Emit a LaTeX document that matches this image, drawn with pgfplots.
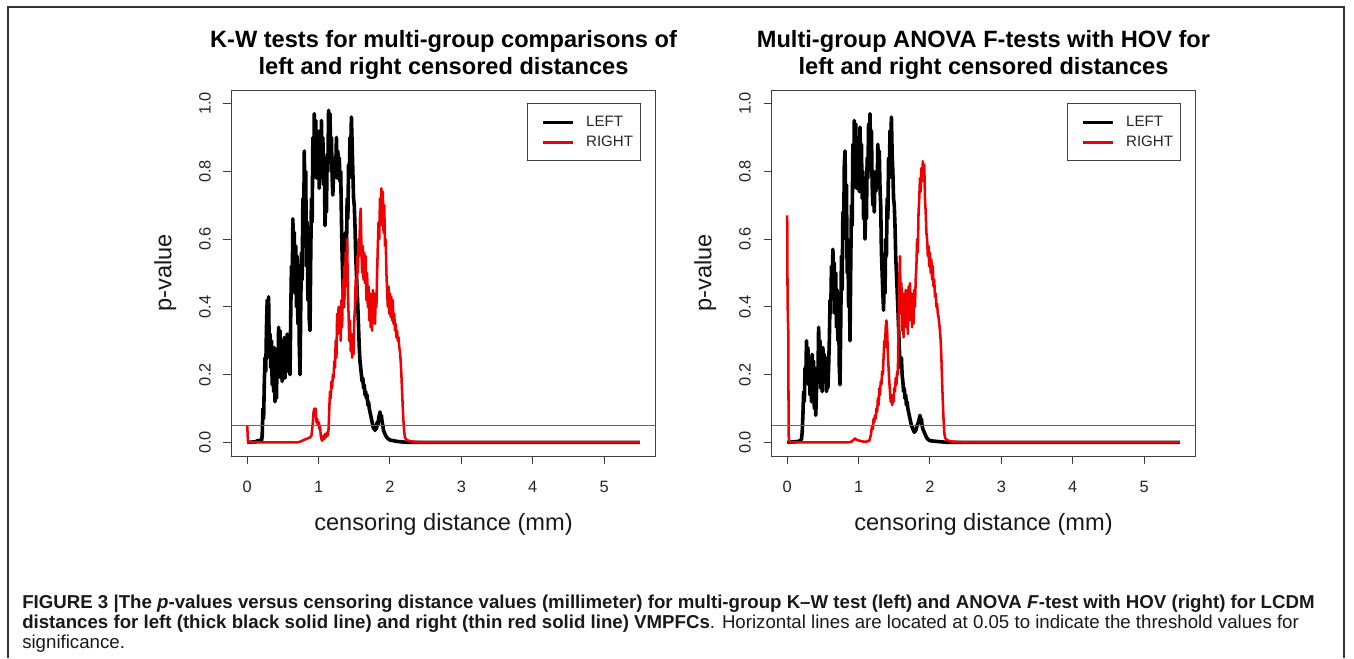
\documentclass[border=0pt]{standalone}
\usepackage{pgfplots}
\pgfplotsset{compat=1.18}
\usepackage{pgfplotstable}
\usepackage{fontspec}
\setmainfont{Liberation Sans}
\definecolor{rred}{RGB}{240,0,0}

% ---------- K-W tests: LEFT ----------
\pgfplotstableread{
x y
0.00 0
0.12 0.002
0.15 0.006
0.17 0.003
0.19 0.008
0.20 0.004
0.21 0.02
0.22 0.10
0.23 0.07
0.24 0.18
0.25 0.25
0.26 0.21
0.27 0.34
0.28 0.42
0.29 0.28
0.30 0.43
0.31 0.25
0.32 0.32
0.33 0.22
0.34 0.30
0.35 0.17
0.36 0.27
0.37 0.15
0.38 0.28
0.39 0.12
0.40 0.21
0.41 0.13
0.42 0.26
0.43 0.20
0.44 0.34
0.45 0.22
0.46 0.33
0.47 0.19
0.48 0.30
0.49 0.18
0.50 0.29
0.51 0.21
0.52 0.31
0.53 0.19
0.54 0.26
0.55 0.22
0.56 0.32
0.57 0.21
0.58 0.30
0.59 0.23
0.60 0.20
0.61 0.38
0.62 0.52
0.63 0.45
0.64 0.66
0.65 0.50
0.66 0.62
0.67 0.44
0.68 0.58
0.69 0.40
0.70 0.55
0.71 0.35
0.72 0.50
0.73 0.28
0.74 0.20
0.75 0.40
0.76 0.56
0.77 0.48
0.78 0.72
0.79 0.60
0.80 0.86
0.81 0.66
0.82 0.80
0.83 0.52
0.84 0.65
0.85 0.42
0.86 0.58
0.87 0.36
0.88 0.33
0.89 0.55
0.90 0.72
0.91 0.65
0.92 0.90
0.93 0.78
0.94 0.97
0.95 0.80
0.96 0.95
0.97 0.78
0.98 0.92
0.99 0.80
1.00 0.88
1.01 0.75
1.02 0.92
1.03 0.78
1.04 0.95
1.05 0.82
1.06 0.90
1.07 0.76
1.08 0.84
1.09 0.64
1.10 0.72
1.11 0.68
1.12 0.85
1.13 0.80
1.14 0.98
1.15 0.86
1.16 0.97
1.17 0.84
1.18 0.90
1.19 0.78
1.20 0.73
1.21 0.80
1.22 0.78
1.23 0.84
1.24 0.80
1.25 0.90
1.26 0.78
1.27 0.86
1.28 0.80
1.29 0.84
1.30 0.77
1.31 0.80
1.32 0.66
1.33 0.55
1.34 0.48
1.35 0.40
1.36 0.52
1.37 0.46
1.38 0.62
1.39 0.55
1.40 0.72
1.41 0.66
1.42 0.82
1.43 0.78
1.44 0.90
1.45 0.86
1.46 0.96
1.47 0.88
1.48 0.80
1.49 0.72
1.50 0.70
1.51 0.64
1.52 0.55
1.53 0.50
1.54 0.45
1.55 0.40
1.56 0.34
1.57 0.28
1.58 0.24
1.59 0.22
1.60 0.20
1.61 0.18
1.62 0.19
1.63 0.16
1.64 0.17
1.65 0.14
1.66 0.15
1.67 0.13
1.68 0.14
1.69 0.11
1.70 0.12
1.71 0.10
1.72 0.09
1.73 0.08
1.74 0.07
1.75 0.06
1.76 0.05
1.77 0.04
1.78 0.05
1.79 0.035
1.80 0.05
1.81 0.04
1.82 0.06
1.83 0.05
1.84 0.07
1.85 0.08
1.86 0.09
1.87 0.07
1.88 0.08
1.89 0.06
1.90 0.05
1.91 0.035
1.92 0.03
1.94 0.02
1.96 0.014
1.98 0.01
2.00 0.007
2.05 0.005
2.10 0.003
2.15 0.002
2.20 0.001
2.30 0
5.50 0
}\kwL

% ---------- K-W tests: RIGHT ----------
\pgfplotstableread{
x y
0.000 0.05
0.005 0.03
0.010 0.005
0.020 0
0.70 0
0.75 0.003
0.80 0.008
0.85 0.012
0.88 0.015
0.90 0.02
0.92 0.06
0.93 0.09
0.94 0.10
0.95 0.08
0.96 0.10
0.97 0.06
0.98 0.07
0.99 0.05
1.00 0.06
1.01 0.04
1.02 0.05
1.03 0.02
1.04 0.01
1.05 0.005
1.06 0.015
1.07 0.02
1.08 0.01
1.09 0.025
1.10 0.015
1.11 0.02
1.12 0.03
1.13 0.02
1.14 0.04
1.15 0.10
1.16 0.15
1.17 0.13
1.18 0.18
1.19 0.16
1.20 0.20
1.21 0.19
1.22 0.24
1.23 0.22
1.24 0.30
1.25 0.25
1.26 0.38
1.27 0.32
1.28 0.40
1.29 0.36
1.30 0.40
1.31 0.30
1.32 0.42
1.33 0.34
1.34 0.48
1.35 0.40
1.36 0.52
1.37 0.46
1.38 0.56
1.39 0.50
1.40 0.60
1.41 0.45
1.42 0.38
1.43 0.30
1.44 0.36
1.45 0.27
1.46 0.32
1.47 0.25
1.48 0.30
1.49 0.26
1.50 0.36
1.51 0.40
1.52 0.48
1.53 0.42
1.54 0.55
1.55 0.50
1.56 0.60
1.57 0.55
1.58 0.66
1.59 0.69
1.60 0.58
1.61 0.50
1.62 0.58
1.63 0.48
1.64 0.56
1.65 0.47
1.66 0.55
1.67 0.42
1.68 0.50
1.69 0.40
1.70 0.46
1.71 0.36
1.72 0.44
1.73 0.34
1.74 0.42
1.75 0.33
1.76 0.45
1.77 0.38
1.78 0.44
1.79 0.35
1.80 0.42
1.81 0.40
1.82 0.50
1.83 0.58
1.84 0.65
1.85 0.60
1.86 0.72
1.87 0.66
1.88 0.75
1.89 0.64
1.90 0.74
1.91 0.62
1.92 0.70
1.93 0.58
1.94 0.60
1.95 0.50
1.96 0.45
1.97 0.40
1.98 0.46
1.99 0.38
2.00 0.44
2.01 0.37
2.02 0.43
2.03 0.36
2.04 0.42
2.05 0.35
2.06 0.38
2.07 0.33
2.08 0.35
2.09 0.31
2.10 0.33
2.11 0.30
2.12 0.31
2.13 0.28
2.14 0.27
2.15 0.24
2.16 0.20
2.17 0.15
2.18 0.10
2.19 0.06
2.20 0.03
2.21 0.015
2.23 0.008
2.26 0.005
2.30 0.003
2.40 0.001
2.50 0
5.50 0
}\kwR

% ---------- ANOVA: LEFT ----------
\pgfplotstableread{
x y
0.00 0
0.15 0.003
0.18 0.005
0.20 0.01
0.21 0.03
0.22 0.08
0.23 0.15
0.24 0.12
0.25 0.22
0.26 0.18
0.27 0.30
0.28 0.22
0.29 0.28
0.30 0.17
0.31 0.25
0.32 0.14
0.33 0.22
0.34 0.12
0.35 0.26
0.36 0.18
0.37 0.24
0.38 0.10
0.39 0.16
0.40 0.08
0.41 0.15
0.42 0.22
0.43 0.18
0.44 0.34
0.45 0.24
0.46 0.30
0.47 0.16
0.48 0.22
0.49 0.15
0.50 0.28
0.51 0.20
0.52 0.26
0.53 0.18
0.54 0.25
0.55 0.15
0.56 0.20
0.57 0.16
0.58 0.22
0.59 0.30
0.60 0.42
0.61 0.38
0.62 0.52
0.63 0.45
0.64 0.57
0.65 0.48
0.66 0.53
0.67 0.38
0.68 0.50
0.69 0.34
0.70 0.45
0.71 0.30
0.72 0.40
0.73 0.22
0.74 0.17
0.75 0.35
0.76 0.55
0.77 0.45
0.78 0.68
0.79 0.60
0.80 0.82
0.81 0.86
0.82 0.70
0.83 0.76
0.84 0.50
0.85 0.60
0.86 0.40
0.87 0.48
0.88 0.30
0.89 0.52
0.90 0.70
0.91 0.64
0.92 0.88
0.93 0.76
0.94 0.95
0.95 0.80
0.96 0.94
0.97 0.75
0.98 0.90
0.99 0.78
1.00 0.86
1.01 0.74
1.02 0.93
1.03 0.80
1.04 0.88
1.05 0.72
1.06 0.80
1.07 0.66
1.08 0.74
1.09 0.60
1.10 0.70
1.11 0.66
1.12 0.84
1.13 0.78
1.14 0.94
1.15 0.86
1.16 0.97
1.17 0.82
1.18 0.92
1.19 0.76
1.20 0.70
1.21 0.80
1.22 0.68
1.23 0.78
1.24 0.74
1.25 0.80
1.26 0.75
1.27 0.88
1.28 0.80
1.29 0.86
1.30 0.75
1.31 0.70
1.32 0.56
1.33 0.50
1.34 0.44
1.35 0.39
1.36 0.50
1.37 0.44
1.38 0.60
1.39 0.55
1.40 0.72
1.41 0.66
1.42 0.84
1.43 0.78
1.44 0.92
1.45 0.88
1.46 0.96
1.47 0.85
1.48 0.80
1.49 0.72
1.50 0.70
1.51 0.64
1.52 0.55
1.53 0.50
1.54 0.45
1.55 0.40
1.56 0.34
1.57 0.28
1.58 0.24
1.59 0.22
1.60 0.25
1.61 0.20
1.62 0.18
1.63 0.15
1.64 0.16
1.65 0.13
1.66 0.14
1.67 0.11
1.68 0.12
1.69 0.10
1.70 0.09
1.72 0.07
1.74 0.05
1.76 0.04
1.78 0.03
1.80 0.035
1.82 0.05
1.84 0.06
1.86 0.08
1.87 0.06
1.88 0.07
1.89 0.05
1.90 0.04
1.92 0.03
1.94 0.02
1.96 0.012
1.98 0.008
2.00 0.005
2.10 0.003
2.20 0.001
2.30 0
5.50 0
}\anL

% ---------- ANOVA: RIGHT ----------
\pgfplotstableread{
x y
0.000 0.67
0.005 0.43
0.010 0.36
0.015 0.33
0.020 0.02
0.030 0
0.85 0
0.90 0.002
0.93 0.008
0.95 0.012
0.97 0.008
1.00 0.006
1.05 0.003
1.10 0.002
1.15 0.005
1.17 0.02
1.19 0.05
1.20 0.04
1.21 0.07
1.22 0.06
1.23 0.08
1.24 0.07
1.25 0.10
1.26 0.09
1.27 0.13
1.28 0.11
1.29 0.16
1.30 0.14
1.31 0.18
1.32 0.17
1.33 0.21
1.34 0.20
1.35 0.25
1.36 0.30
1.37 0.28
1.38 0.34
1.39 0.36
1.40 0.33
1.41 0.26
1.42 0.22
1.43 0.18
1.44 0.15
1.45 0.12
1.46 0.14
1.47 0.11
1.48 0.13
1.49 0.12
1.50 0.16
1.51 0.15
1.52 0.19
1.53 0.17
1.54 0.21
1.55 0.20
1.56 0.35
1.57 0.48
1.58 0.55
1.59 0.38
1.60 0.47
1.61 0.33
1.62 0.44
1.63 0.31
1.64 0.42
1.65 0.35
1.66 0.45
1.67 0.34
1.68 0.44
1.69 0.32
1.70 0.46
1.71 0.36
1.72 0.47
1.73 0.38
1.74 0.44
1.75 0.34
1.76 0.42
1.77 0.35
1.78 0.45
1.79 0.40
1.80 0.48
1.81 0.52
1.82 0.60
1.83 0.56
1.84 0.68
1.85 0.72
1.86 0.78
1.87 0.74
1.88 0.81
1.89 0.77
1.90 0.83
1.91 0.80
1.92 0.82
1.93 0.72
1.94 0.68
1.95 0.62
1.96 0.60
1.97 0.55
1.98 0.58
1.99 0.52
2.00 0.56
2.01 0.50
2.02 0.54
2.03 0.48
2.04 0.52
2.05 0.46
2.06 0.48
2.07 0.43
2.08 0.44
2.09 0.40
2.10 0.41
2.11 0.38
2.12 0.37
2.13 0.35
2.14 0.33
2.15 0.30
2.16 0.25
2.17 0.18
2.18 0.12
2.19 0.07
2.20 0.03
2.21 0.015
2.23 0.008
2.26 0.005
2.30 0.003
2.40 0.001
2.50 0
5.50 0
}\anR

\pgfplotsset{
  rstyle/.style={
    scale only axis, width=318pt, height=274.5pt,
    anchor=south west,
    xmin=-0.22, xmax=5.72, ymin=-0.04, ymax=1.04,
    axis line style={black!75, line width=0.75pt},
    xtick={0,1,2,3,4,5},
    ytick={0,0.2,0.4,0.6,0.8,1},
    yticklabels={0.0,0.2,0.4,0.6,0.8,1.0},
    xtick pos=bottom, ytick pos=left,
    tick align=outside, major tick length=6pt,
    every tick/.style={black!75, line width=0.75pt},
    tick label style={font=\fontsize{12.3pt}{14pt}\selectfont, text=black!85},
    /pgf/number format/assume math mode=true,
    xticklabel style={yshift=-9.2pt},
    yticklabel style={rotate=90, anchor=south, inner sep=0pt, yshift=9.4pt},
    xlabel={censoring distance (mm)},
    xlabel style={at={(axis description cs:0.5,-0.2022)}, anchor=base, inner sep=0pt,
      font=\fontsize{17.7pt}{20pt}\selectfont, text=black!90},
    ylabel={p-value},
    ylabel style={at={(axis description cs:-0.142,0.5)}, anchor=base, inner sep=0pt,
      font=\fontsize{17.7pt}{20pt}\selectfont, text=black!90},
    title style={at={(axis description cs:0.5,1.1426)}, anchor=north, align=center,
      inner sep=0pt, font=\bfseries\fontsize{17.7pt}{20.25pt}\selectfont},
    legend style={at={(0.9651,0.9637)}, anchor=north east, draw=black!75,
      line width=0.75pt, fill=white,
      font=\fontsize{11.3pt}{13pt}\selectfont, text=black!85,
      inner xsep=3.4pt, inner ysep=6.3pt, row sep=0pt,
      nodes={inner xsep=2pt, inner ysep=0pt, text height=10.5pt, text depth=4.5pt},
      /tikz/every odd column/.append style={column sep=7pt}},
    legend cell align=left,
    legend image code/.code={\path (0pt,0pt); \draw[##1, line width=2.4pt] (6.6pt,0pt) -- (29.1pt,0pt);},
  },
  blk/.style={black, line width=2.7pt, line join=round},
  rd/.style={rred, line width=1.9pt, line join=round},
  thr/.style={black!60, line width=0.75pt},
}

\begin{document}
\begin{tikzpicture}[x=0.75pt, y=0.75pt]
\path[use as bounding box] (0,0) rectangle (1354,658);
\draw[black!80, line width=1.1pt] (8,0) -- (8,651) -- (1344,651) -- (1344,0);

\begin{axis}[rstyle, at={(173.625pt,151.5pt)},
  title={K-W tests for multi-group comparisons of\\left and right censored distances}]
  \addplot[blk] table[x=x, y=y] {\kwL};
  \addplot[rd] table[x=x, y=y] {\kwR};
  \addplot[thr, forget plot] coordinates {(-0.22,0.05) (5.72,0.05)};
  \legend{LEFT, RIGHT}
\end{axis}

\begin{axis}[rstyle, at={(578.625pt,151.5pt)},
  title={Multi-group ANOVA F-tests with HOV for\\left and right censored distances}]
  \addplot[blk] table[x=x, y=y] {\anL};
  \addplot[rd] table[x=x, y=y] {\anR};
  \addplot[thr, forget plot] coordinates {(-0.22,0.05) (5.72,0.05)};
  \legend{LEFT, RIGHT}
\end{axis}

\begin{scope}[every node/.style={anchor=base west, inner sep=0pt, font=\fontsize{14pt}{15pt}\selectfont, text=black!90}]
\node at (22,50) {\textbf{FIGURE 3 |The \textit{p}-values versus censoring distance values (millimeter) for multi-group K–W test (left) and ANOVA \textit{F}-test with HOV (right) for LCDM}};
\node at (22,30) {\textbf{distances for left (thick black solid line) and right (thin red solid line) VMPFCs}. Horizontal lines are located at 0.05 to indicate the threshold values for};
\node at (22,10) {significance.};
\end{scope}
\end{tikzpicture}
\end{document}
